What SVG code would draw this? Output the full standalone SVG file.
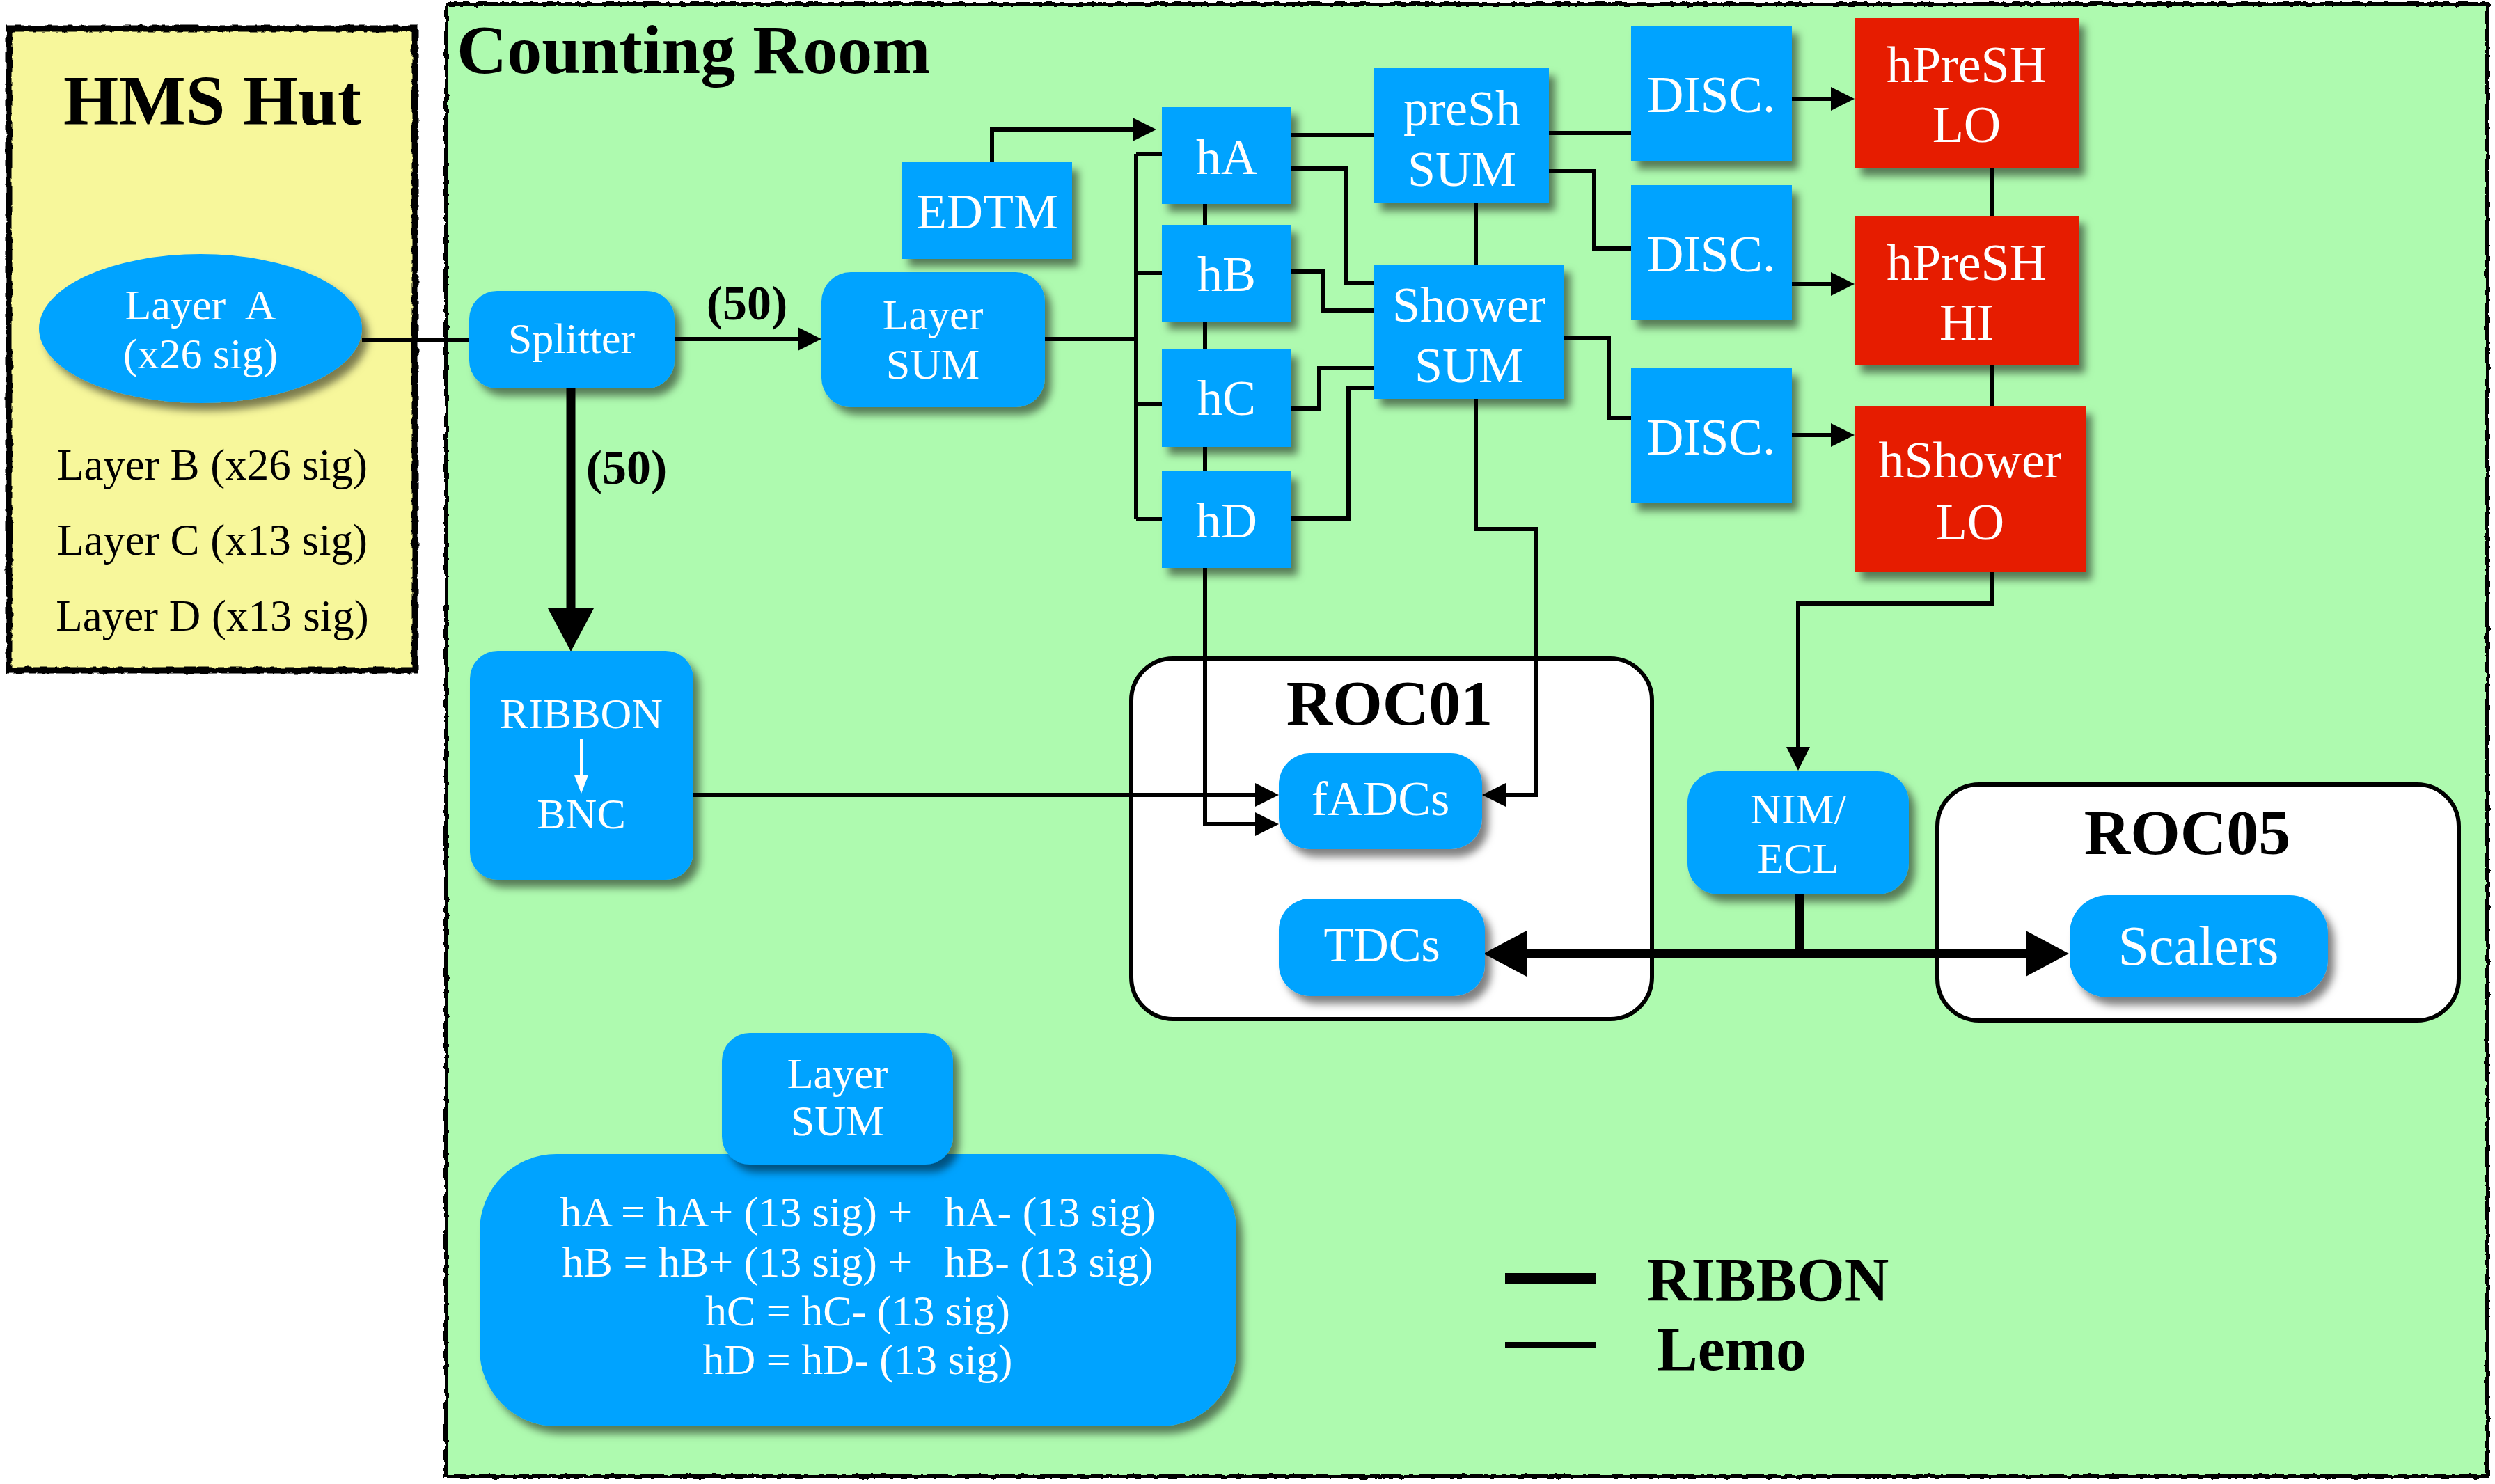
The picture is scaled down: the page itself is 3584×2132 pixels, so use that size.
<svg xmlns="http://www.w3.org/2000/svg" width="3584" height="2132" viewBox="0 0 3584 2132">
<style>
.blue{fill:#00A3FF}
.red{fill:#E61B00}
.sh{filter:url(#sh)}
.lbl{font-family:"Liberation Serif","Times New Roman",serif;fill:#fff;text-anchor:middle}
.blk{font-family:"Liberation Serif","Times New Roman",serif;fill:#000}
.bold{font-weight:bold}
.conn{fill:none;stroke:#000;stroke-width:6;stroke-linejoin:miter}
.rib{fill:none;stroke:#000;stroke-width:13}
.arr{marker-end:url(#ah)}
.pre{white-space:pre}
</style>
<defs>
<filter id="sh" x="-20%" y="-20%" width="150%" height="160%">
<feDropShadow dx="9" dy="11" stdDeviation="6" flood-color="#000" flood-opacity="0.5"/>
</filter>
<filter id="rough" x="-2%" y="-2%" width="104%" height="104%">
<feTurbulence type="fractalNoise" baseFrequency="0.09" numOctaves="2" seed="4"/>
<feDisplacementMap in="SourceGraphic" scale="6" xChannelSelector="R" yChannelSelector="G"/>
</filter>
<marker id="ah" viewBox="0 0 34 34" refX="26" refY="17" markerWidth="34" markerHeight="34" markerUnits="userSpaceOnUse" orient="auto">
<path d="M0,0 L34,17 L0,34 z" fill="#000"/>
</marker>
<marker id="bh" viewBox="0 0 62 66" refX="48" refY="33" markerWidth="62" markerHeight="66" markerUnits="userSpaceOnUse" orient="auto-start-reverse">
<path d="M0,0 L62,33 L0,66 z" fill="#000"/>
</marker>
<marker id="wh" viewBox="0 0 26 34" refX="26" refY="13" markerWidth="34" markerHeight="26" markerUnits="userSpaceOnUse" orient="auto">
<path d="M0,0 L34,13 L0,26 z" fill="#fff"/>
</marker>
</defs>

<rect x="0" y="0" width="3584" height="2132" fill="#fff"/>

<g id="hms-hut">
<rect x="13" y="41" width="583" height="922" fill="#F7F79B"/>
<rect x="13" y="41" width="583" height="922" fill="none" stroke="#000" stroke-width="9" filter="url(#rough)"/>
<text class="blk bold" x="305" y="179" font-size="102" text-anchor="middle">HMS Hut</text>
<text class="blk" x="305" y="689" font-size="63" text-anchor="middle">Layer B (x26 sig)</text>
<text class="blk" x="305" y="797" font-size="63" text-anchor="middle">Layer C (x13 sig)</text>
<text class="blk" x="305" y="906" font-size="63" text-anchor="middle">Layer D (x13 sig)</text>
</g>

<g id="counting-room">
<rect x="641" y="6" width="2932" height="2115" fill="#AEFAAF"/>
<rect x="641" y="6" width="2932" height="2115" fill="none" stroke="#000" stroke-width="6" filter="url(#rough)"/>
<text class="blk bold" x="656" y="105" font-size="100">Counting Room</text>
</g>

<g id="roc01">
<rect x="1625" y="946" width="748" height="518" rx="60" fill="#fff" stroke="#000" stroke-width="6"/>
<text class="blk bold" x="1996" y="1041" font-size="92" text-anchor="middle">ROC01</text>
</g>
<g id="roc05">
<rect x="2783" y="1127" width="749" height="339" rx="60" fill="#fff" stroke="#000" stroke-width="6"/>
<text class="blk bold" x="3142" y="1227" font-size="92" text-anchor="middle">ROC05</text>
</g>

<g id="connectors">
<path class="conn" d="M520,488 H674"/>
<path class="conn arr" d="M969,487 H1172"/>
<text class="blk bold" x="1073" y="459" font-size="70" text-anchor="middle">(50)</text>
<path class="rib" d="M820,558 V922" marker-end="url(#bh)"/>
<text class="blk bold" x="900" y="695" font-size="70" text-anchor="middle">(50)</text>
<path class="conn arr" d="M1425,233 V186 H1653"/>
<path class="conn" d="M1501,487 H1632"/>
<path class="conn" d="M1632,221 V746"/>
<path class="conn" d="M1632,221 H1669 M1632,392 H1669 M1632,580 H1669 M1632,746 H1669"/>
<path class="conn arr" d="M1731,293 V1184 H1829"/>
<path class="conn" d="M1855,194 H1974"/>
<path class="conn" d="M1855,242 H1933 V407 H1974"/>
<path class="conn" d="M1855,390 H1901 V446 H1974"/>
<path class="conn" d="M1855,587 H1895 V529 H1974"/>
<path class="conn" d="M1855,745 H1937 V558 H1974"/>
<path class="conn" d="M2120,291 V380"/>
<path class="conn arr" d="M2120,573 V760 H2206 V1142 H2137"/>
<path class="conn arr" d="M996,1142 H1829"/>
<path class="conn" d="M2225,191 H2343"/>
<path class="conn" d="M2225,246 H2290 V357 H2343"/>
<path class="conn" d="M2247,486 H2311 V600 H2343"/>
<path class="conn arr" d="M2574,142 H2656"/>
<path class="conn arr" d="M2574,408 H2656"/>
<path class="conn arr" d="M2574,625 H2656"/>
<path class="conn" d="M2861,242 V584"/>
<path class="conn arr" d="M2861,822 V867 H2583 V1099"/>
<path class="rib" d="M2585,1285 V1370"/>
<path class="rib" d="M2145,1370 H2958" marker-start="url(#bh)" marker-end="url(#bh)"/>
</g>

<g id="layer-a">
<ellipse class="blue sh" cx="288" cy="472" rx="232" ry="107"/>
<text class="lbl pre" x="288" y="459" font-size="62" xml:space="preserve">Layer  A</text>
<text class="lbl" x="288" y="529" font-size="62">(x26 sig)</text>
</g>
<g id="splitter">
<rect class="blue sh" x="674" y="418" width="295" height="140" rx="40"/>
<text class="lbl" x="821" y="507" font-size="62">Splitter</text>
</g>
<g id="layer-sum">
<rect class="blue sh" x="1180" y="391" width="321" height="194" rx="42"/>
<text class="lbl" x="1340" y="473" font-size="62">Layer</text>
<text class="lbl" x="1340" y="544" font-size="62">SUM</text>
</g>
<g id="edtm">
<rect class="blue sh" x="1296" y="233" width="244" height="139"/>
<text class="lbl" x="1418" y="328" font-size="72">EDTM</text>
</g>
<g id="hA">
<rect class="blue sh" x="1669" y="154" width="186" height="139"/>
<text class="lbl" x="1762" y="250" font-size="72">hA</text>
</g>
<g id="hB">
<rect class="blue sh" x="1669" y="323" width="186" height="139"/>
<text class="lbl" x="1762" y="418" font-size="72">hB</text>
</g>
<g id="hC">
<rect class="blue sh" x="1669" y="501" width="186" height="141"/>
<text class="lbl" x="1762" y="596" font-size="72">hC</text>
</g>
<g id="hD">
<rect class="blue sh" x="1669" y="677" width="186" height="139"/>
<text class="lbl" x="1762" y="772" font-size="72">hD</text>
</g>
<g id="presh-sum">
<rect class="blue sh" x="1974" y="98" width="251" height="194"/>
<text class="lbl" x="2100" y="180" font-size="72">preSh</text>
<text class="lbl" x="2100" y="267" font-size="72">SUM</text>
</g>
<g id="shower-sum">
<rect class="blue sh" x="1974" y="380" width="273" height="193"/>
<text class="lbl" x="2110" y="462" font-size="72">Shower</text>
<text class="lbl" x="2110" y="549" font-size="72">SUM</text>
</g>
<g id="disc1">
<rect class="blue sh" x="2343" y="37" width="231" height="195"/>
<text class="lbl" x="2458" y="161" font-size="73">DISC.</text>
</g>
<g id="disc2">
<rect class="blue sh" x="2343" y="266" width="231" height="194"/>
<text class="lbl" x="2458" y="390" font-size="73">DISC.</text>
</g>
<g id="disc3">
<rect class="blue sh" x="2343" y="529" width="231" height="194"/>
<text class="lbl" x="2458" y="653" font-size="73">DISC.</text>
</g>
<g id="hpresh-lo">
<rect class="red sh" x="2664" y="26" width="322" height="216"/>
<text class="lbl" x="2825" y="118" font-size="74">hPreSH</text>
<text class="lbl" x="2825" y="204" font-size="74">LO</text>
</g>
<g id="hpresh-hi">
<rect class="red sh" x="2664" y="310" width="322" height="215"/>
<text class="lbl" x="2825" y="402" font-size="74">hPreSH</text>
<text class="lbl" x="2825" y="488" font-size="74">HI</text>
</g>
<g id="hshower-lo">
<rect class="red sh" x="2664" y="584" width="332" height="238"/>
<text class="lbl" x="2830" y="686" font-size="74">hShower</text>
<text class="lbl" x="2830" y="775" font-size="74">LO</text>
</g>
<g id="ribbon-bnc">
<rect class="blue sh" x="675" y="935" width="321" height="329" rx="40"/>
<text class="lbl" x="835" y="1046" font-size="62">RIBBON</text>
<path d="M835,1062 V1134" stroke="#fff" stroke-width="4" fill="none" marker-end="url(#wh)"/>
<text class="lbl" x="835" y="1190" font-size="62">BNC</text>
</g>
<g id="fadcs">
<rect class="blue sh" x="1837" y="1082" width="292" height="138" rx="45"/>
<text class="lbl" x="1983" y="1171" font-size="70">fADCs</text>
</g>
<g id="tdcs">
<rect class="blue sh" x="1837" y="1291" width="296" height="140" rx="45"/>
<text class="lbl" x="1985" y="1381" font-size="70">TDCs</text>
</g>
<g id="nim-ecl">
<rect class="blue sh" x="2424" y="1108" width="318" height="177" rx="45"/>
<text class="lbl" x="2583" y="1183" font-size="62">NIM/</text>
<text class="lbl" x="2583" y="1254" font-size="62">ECL</text>
</g>
<g id="scalers">
<rect class="blue sh" x="2973" y="1286" width="371" height="147" rx="55"/>
<text class="lbl" x="3158" y="1386" font-size="80">Scalers</text>
</g>
<g id="layer-sum-formula">
<rect class="blue sh" x="689" y="1658" width="1087" height="391" rx="110"/>
<text class="lbl pre" x="1232" y="1762" font-size="62" xml:space="preserve">hA = hA+ (13 sig) +   hA- (13 sig)</text>
<text class="lbl pre" x="1232" y="1834" font-size="62" xml:space="preserve">hB = hB+ (13 sig) +   hB- (13 sig)</text>
<text class="lbl" x="1232" y="1904" font-size="62">hC = hC- (13 sig)</text>
<text class="lbl" x="1232" y="1974" font-size="62">hD = hD- (13 sig)</text>
</g>
<g id="layer-sum-legend">
<rect class="blue sh" x="1037" y="1484" width="332" height="189" rx="40"/>
<text class="lbl" x="1203" y="1563" font-size="62">Layer</text>
<text class="lbl" x="1203" y="1631" font-size="62">SUM</text>
</g>
<g id="legend">
<path d="M2162,1837 H2292" stroke="#000" stroke-width="16"/>
<path d="M2162,1932 H2292" stroke="#000" stroke-width="8"/>
<text class="blk bold" x="2366" y="1868" font-size="88">RIBBON</text>
<text class="blk bold" x="2380" y="1968" font-size="88">Lemo</text>
</g>
</svg>
